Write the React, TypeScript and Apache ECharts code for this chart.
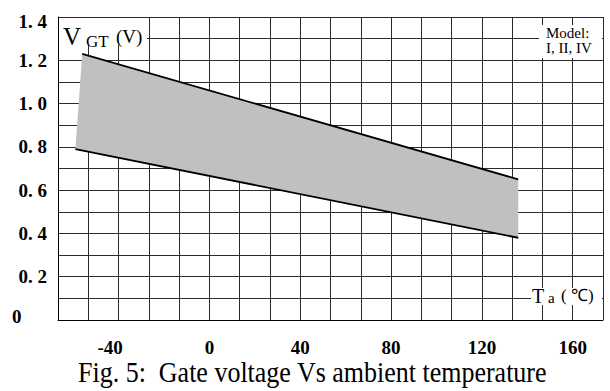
import React, { useEffect, useRef } from "react";
import * as echarts from "echarts";

// Axis ranges (°C and V)
const xMin = -200 / 3;
const xMax = 520 / 3;
const xStep = 40 / 3;
const xLabelValues = [-40, 0, 40, 80, 120, 160];
const yMin = 0;
const yMax = 1.4;
const yStep = 0.1;
const yLabelValues = [0, 0.2, 0.4, 0.6, 0.8, 1.0, 1.2, 1.4];

// Boundary lines of the V_GT band
const upperTemp = [-56, 136];
const upperV = [1.23, 0.65];
const lowerTemp = [-59, 136];
const lowerV = [0.79, 0.38];

const SERIF = "'Liberation Serif', 'Times New Roman', serif";

const labelBase = {
  fontFamily: SERIF,
  fontWeight: "bold",
  fontSize: 19,
  color: "#000",
};

export default function App() {
  const ref = useRef<HTMLDivElement>(null);

  useEffect(() => {
    if (!ref.current) return;
    const chart = echarts.init(ref.current, undefined, { renderer: "svg" });

    const upper = upperTemp.map((t, i) => [t, upperV[i]]);
    const lower = lowerTemp.map((t, i) => [t, lowerV[i]]);
    // polygon: upper left -> upper right -> lower right -> lower left
    const band = [...upper, ...lower.slice().reverse()];

    const option: any = {
      animation: false,
      backgroundColor: "#ffffff",
      grid: { left: 58, top: 17, right: 7, bottom: 71, containLabel: false },
      xAxis: {
        type: "value",
        min: xMin,
        max: xMax,
        interval: xStep,
        axisLine: { show: true, onZero: false, lineStyle: { color: "#000", width: 1 } },
        axisTick: { show: false },
        splitLine: { show: true, lineStyle: { color: "#2a2a2a", width: 1 } },
        axisLabel: {
          margin: 18,
          ...labelBase,
          showMinLabel: true,
          showMaxLabel: true,
          formatter: (v: number) => {
            const r = Math.round(v);
            if (Math.abs(v - r) > 1e-6) return "";
            if (xLabelValues.indexOf(r) < 0) return "";
            return r < 0 ? `{n|${r}}` : String(r);
          },
          rich: {
            n: { ...labelBase, padding: [0, 17, 0, 0] },
          },
        },
      },
      yAxis: {
        type: "value",
        min: yMin,
        max: yMax,
        interval: yStep,
        axisLine: { show: true, onZero: false, lineStyle: { color: "#000", width: 1 } },
        axisTick: { show: false },
        splitLine: { show: true, lineStyle: { color: "#2a2a2a", width: 1 } },
        axisLabel: {
          margin: 11,
          ...labelBase,
          showMinLabel: true,
          showMaxLabel: true,
          formatter: (v: number) => {
            const match = yLabelValues.find((y) => Math.abs(y - v) < 1e-6);
            if (match === undefined) return "";
            if (match === 0) return "{z|0}";
            const txt = match.toFixed(1).replace(".", ". ");
            if (Math.abs(match - yMax) < 1e-6) return `{t|${txt}}`;
            return txt;
          },
          rich: {
            z: { ...labelBase, width: 35, align: "left", padding: [0, 0, 8, 0] },
            t: { ...labelBase, padding: [9, 0, 0, 0] },
          },
        },
      },
      series: [
        {
          type: "custom",
          clip: false,
          z: 1,
          data: band,
          renderItem: (params: any, api: any) => {
            if (params.dataIndex !== 0) return null;
            const pts = band.map((p) => api.coord(p));
            return {
              type: "polygon",
              shape: { points: pts },
              style: { fill: "#c0c0c0", stroke: "none" },
            };
          },
        },
        {
          type: "line",
          data: upper,
          symbol: "none",
          z: 3,
          lineStyle: { color: "#000", width: 1.8 },
        },
        {
          type: "line",
          data: lower,
          symbol: "none",
          z: 3,
          lineStyle: { color: "#000", width: 1.8 },
        },
      ],
      graphic: [
        { type: "rect", z: 50, shape: { x: 59, y: 18, width: 88, height: 27 }, style: { fill: "#fff" } },
        { type: "text", z: 51, x: 63, y: 36.5, style: { text: "V", font: `25px ${SERIF}`, fill: "#000", align: "left", verticalAlign: "middle" } },
        { type: "text", z: 51, x: 86, y: 41, style: { text: "GT", font: `17px ${SERIF}`, fill: "#000", align: "left", verticalAlign: "middle" } },
        { type: "text", z: 51, x: 116, y: 36, style: { text: "(V)", font: `19px ${SERIF}`, fill: "#000", align: "left", verticalAlign: "middle" } },

        { type: "rect", z: 50, shape: { x: 539, y: 25, width: 63, height: 33 }, style: { fill: "#fff" } },
        { type: "text", z: 51, x: 546, y: 33, style: { text: "Model:", font: `15px ${SERIF}`, fill: "#000", align: "left", verticalAlign: "middle" } },
        { type: "text", z: 51, x: 546, y: 47.5, style: { text: "I, II, IV", font: `15px ${SERIF}`, fill: "#000", align: "left", verticalAlign: "middle" } },

        { type: "rect", z: 50, shape: { x: 531, y: 288, width: 71, height: 17 }, style: { fill: "#fff" } },
        { type: "text", z: 51, x: 532, y: 295.5, style: { text: "T", font: `20px ${SERIF}`, fill: "#000", align: "left", verticalAlign: "middle" } },
        { type: "text", z: 51, x: 548, y: 298, style: { text: "a", font: `15px ${SERIF}`, fill: "#000", align: "left", verticalAlign: "middle" } },
        { type: "text", z: 51, x: 561, y: 295.5, style: { text: "( ℃)", font: `17px ${SERIF}`, fill: "#000", align: "left", verticalAlign: "middle" } },

        {
          type: "text",
          z: 51,
          x: 78,
          y: 372,
          scaleY: 1.15,
          style: {
            text: "Fig. 5:  Gate voltage Vs ambient temperature",
            font: `26px ${SERIF}`,
            fill: "#000",
            align: "left",
            verticalAlign: "middle",
          },
        },
      ],
    };

    chart.setOption(option);
    return () => chart.dispose();
  }, []);

  return (
    <div
      ref={ref}
      style={{ position: "fixed", left: 0, top: 0, width: 610, height: 391, background: "#fff" }}
    />
  );
}
